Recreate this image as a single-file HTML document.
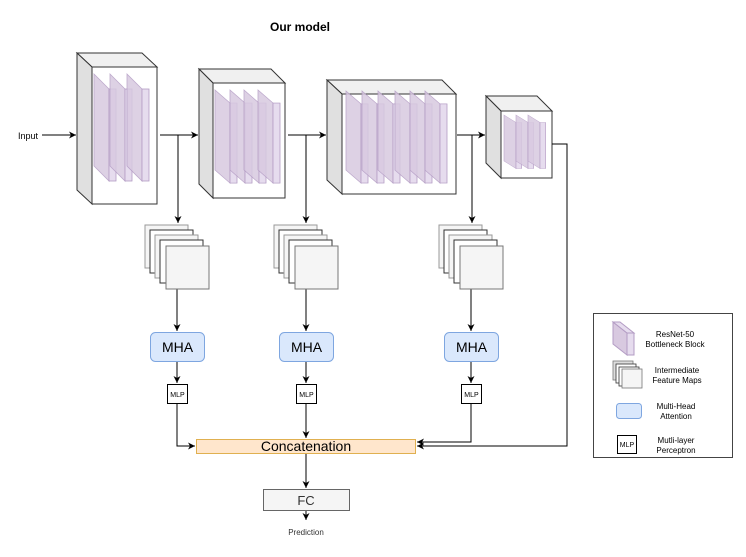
<!DOCTYPE html>
<html><head><meta charset="utf-8"><style>body{margin:0;background:#fff}svg{display:block;font-family:"Liberation Sans",Arial,sans-serif}</style></head><body>
<svg width="746" height="557" viewBox="0 0 746 557" xmlns="http://www.w3.org/2000/svg">
<defs>
<marker id="a" markerWidth="8" markerHeight="8" refX="7" refY="4" orient="auto" markerUnits="userSpaceOnUse"><path d="M0,0.5 L7,4 L0,7.5 L2,4 Z" fill="#000"/></marker>
<g id="plate"><polygon points="0,0 15,15 15,107 0,92" fill="#d8c9e0" stroke="#b39cc4" stroke-width="0.8" opacity="0.85"/><rect x="15" y="15" width="7" height="92" fill="#e6dcee" stroke="#b39cc4" stroke-width="0.8"/></g>
</defs>
<text x="300" y="31" font-size="12" font-weight="bold" text-anchor="middle">Our model</text>
<text x="18" y="139" font-size="9">Input</text>
<!-- blocks -->
<g stroke="#333" stroke-width="1">
<polygon points="77,53 142,53 157,67 92,67" fill="#f0f0f0"/>
<polygon points="77,53 92,67 92,204 77,190" fill="#e0e0e0"/>
<rect x="92" y="67" width="65" height="137" fill="#fff"/>
<polygon points="199,69 271,69 285,83 213,83" fill="#f0f0f0"/>
<polygon points="199,69 213,83 213,198 199,184" fill="#e0e0e0"/>
<rect x="213" y="83" width="72" height="115" fill="#fff"/>
<polygon points="327,80 442,80 456,94 342,94" fill="#f0f0f0"/>
<polygon points="327,80 342,94 342,194 327,180" fill="#e0e0e0"/>
<rect x="342" y="94" width="114" height="100" fill="#fff"/>
<polygon points="486,96 537,96 552,111 501,111" fill="#f0f0f0"/>
<polygon points="486,96 501,111 501,178 486,163" fill="#e0e0e0"/>
<rect x="501" y="111" width="51" height="67" fill="#fff"/>
</g>
<g>
<use href="#plate" transform="translate(94,74)"/><use href="#plate" transform="translate(110,74)"/><use href="#plate" transform="translate(127,74)"/>
<g transform="translate(215,90) scale(1,0.87)"><use href="#plate"/></g>
<g transform="translate(230,90) scale(1,0.87)"><use href="#plate"/></g>
<g transform="translate(244,90) scale(1,0.87)"><use href="#plate"/></g>
<g transform="translate(258,90) scale(1,0.87)"><use href="#plate"/></g>
<g transform="translate(346,91) scale(1,0.86)"><use href="#plate"/></g>
<g transform="translate(362,91) scale(1,0.86)"><use href="#plate"/></g>
<g transform="translate(378,91) scale(1,0.86)"><use href="#plate"/></g>
<g transform="translate(395,91) scale(1,0.86)"><use href="#plate"/></g>
<g transform="translate(410,91) scale(1,0.86)"><use href="#plate"/></g>
<g transform="translate(425,91) scale(1,0.86)"><use href="#plate"/></g>
<g transform="translate(504,115) scale(0.8,0.5)"><use href="#plate"/></g>
<g transform="translate(516,115) scale(0.8,0.5)"><use href="#plate"/></g>
<g transform="translate(528,115) scale(0.8,0.5)"><use href="#plate"/></g>
</g>
<!-- connectors -->
<g stroke="#000" stroke-width="1" fill="none">
<path d="M42,135 H76" marker-end="url(#a)"/>
<path d="M160,135 H198" marker-end="url(#a)"/>
<path d="M178,135 V223" marker-end="url(#a)"/>
<path d="M288,135 H326" marker-end="url(#a)"/>
<path d="M306,135 V223" marker-end="url(#a)"/>
<path d="M457,135 H485" marker-end="url(#a)"/>
<path d="M472,135 V223" marker-end="url(#a)"/>
<path d="M552,144 H567 V446 H417" marker-end="url(#a)"/>
<path d="M177,289 V331" marker-end="url(#a)"/><path d="M177,361 V383" marker-end="url(#a)"/>
<path d="M306,289 V331" marker-end="url(#a)"/><path d="M306,361 V383" marker-end="url(#a)"/>
<path d="M471,289 V331" marker-end="url(#a)"/><path d="M471,361 V383" marker-end="url(#a)"/>
<path d="M177,403 V446 H195" marker-end="url(#a)"/>
<path d="M306,403 V438" marker-end="url(#a)"/>
<path d="M471,403 V442 H417" marker-end="url(#a)"/>
<path d="M306,453 V488" marker-end="url(#a)"/>
<path d="M306,510 V520" marker-end="url(#a)"/>
</g>
<!-- feature maps -->
<g id="fm" stroke-width="1">
<rect x="145" y="225" width="43" height="43" fill="#f5f5f5" stroke="#999"/>
<rect x="150" y="230" width="43" height="43" fill="#fff" stroke="#333"/>
<rect x="155" y="235" width="43" height="43" fill="#f5f5f5" stroke="#999"/>
<rect x="160" y="240" width="43" height="43" fill="#fff" stroke="#333"/>
<rect x="166" y="246" width="43" height="43" fill="#f5f5f5" stroke="#777"/>
</g>
<use href="#fm" transform="translate(129,0)"/>
<use href="#fm" transform="translate(294,0)"/>
<g id="mha">
<rect x="150.5" y="332.5" width="54" height="29" rx="5" fill="#dae8fc" stroke="#7ea6e0"/>
<text x="177.5" y="352" font-size="14" text-anchor="middle">MHA</text>
<rect x="167.5" y="384.5" width="20" height="19" fill="#fff" stroke="#000"/>
<text x="177.5" y="397" font-size="7" text-anchor="middle">MLP</text>
</g>
<use href="#mha" transform="translate(129,0)"/>
<use href="#mha" transform="translate(294,0)"/>
<rect x="196.5" y="439.5" width="219" height="14" fill="#ffe6cc" stroke="#e0b050"/>
<text x="306" y="451" font-size="14" text-anchor="middle">Concatenation</text>
<rect x="263.5" y="489.5" width="86" height="21" fill="#f5f5f5" stroke="#666"/>
<text x="306" y="505" font-size="13" text-anchor="middle" fill="#333">FC</text>
<text x="306" y="535" font-size="8" text-anchor="middle" fill="#333">Prediction</text>
<!-- legend -->
<rect x="593.5" y="313.5" width="139" height="144" fill="#fff" stroke="#444"/>
<polygon points="613,322 627,333 627,355 613,344" fill="#d8c9e0" stroke="#b39cc4"/>
<polygon points="613,322 627,333 634,333 620,322" fill="#e6dcee" stroke="#b39cc4"/>
<rect x="627" y="333" width="7" height="22" fill="#e6dcee" stroke="#b39cc4"/>
<text x="675" y="337" font-size="8" text-anchor="middle">ResNet-50</text>
<text x="675" y="347" font-size="8" text-anchor="middle">Bottleneck Block</text>
<g stroke-width="0.8">
<rect x="613" y="361" width="20" height="19" fill="#ddd" stroke="#777"/>
<rect x="616" y="364" width="20" height="19" fill="#fff" stroke="#333"/>
<rect x="619" y="367" width="20" height="19" fill="#fff" stroke="#333"/>
<rect x="622" y="369" width="20" height="19" fill="#f5f5f5" stroke="#777"/>
</g>
<text x="677" y="373" font-size="8" text-anchor="middle">Intermediate</text>
<text x="677" y="383" font-size="8" text-anchor="middle">Feature Maps</text>
<rect x="616.5" y="403.5" width="25" height="15" rx="3" fill="#dae8fc" stroke="#7ea6e0"/>
<text x="676" y="409" font-size="8" text-anchor="middle">Multi-Head</text>
<text x="676" y="419" font-size="8" text-anchor="middle">Attention</text>
<rect x="617.5" y="435.5" width="19" height="18" fill="#fff" stroke="#000"/>
<text x="627" y="447" font-size="7" text-anchor="middle">MLP</text>
<text x="676" y="443" font-size="8" text-anchor="middle">Mutli-layer</text>
<text x="676" y="453" font-size="8" text-anchor="middle">Perceptron</text>
</svg>
</body></html>
